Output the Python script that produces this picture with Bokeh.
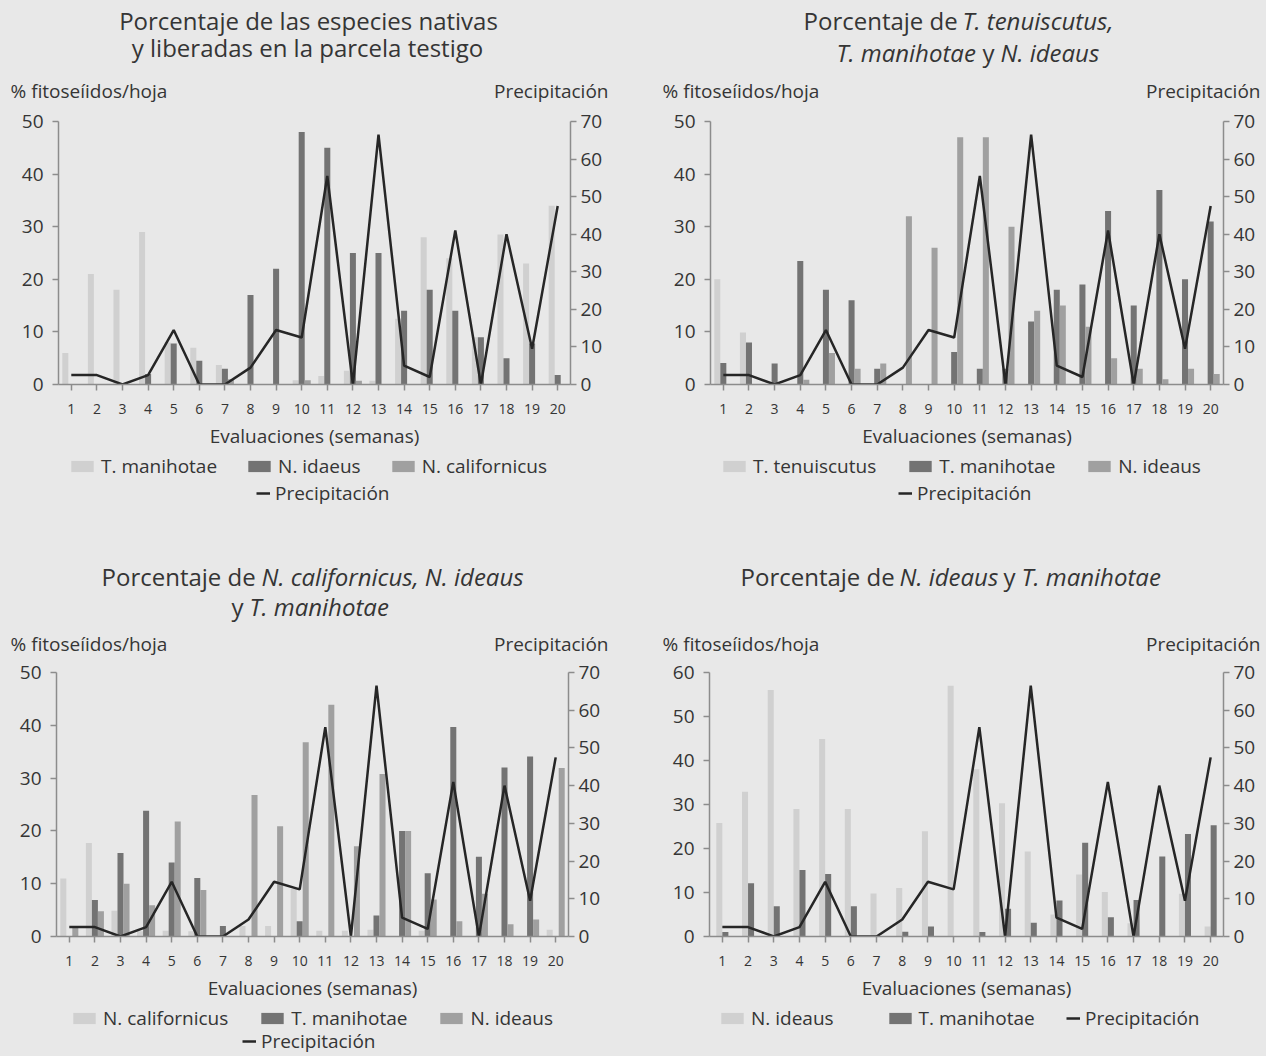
from bokeh.plotting import figure
from bokeh.models import (Range1d, LinearAxis, FixedTicker, Label, Legend,
                          LegendItem, ColumnDataSource)
from bokeh.layouts import column, row
from bokeh.transform import dodge
from bokeh.embed import file_html
from bokeh.resources import INLINE

# ---------------- data ----------------
weeks = list(range(1, 21))
precipitacion = [2.5, 2.5, 0, 2.5, 14.5, 0, 0, 4.5, 14.5, 12.5,
                 55.5, 0, 66.5, 5, 2, 41, 0, 40, 9.5, 47.5]

# Panel 1: especies nativas y liberadas en la parcela testigo
p1_t_manihotae = [6, 21, 18, 29, 8, 7, 3.7, 0, 0, 0.8,
                  1.6, 2.6, 0.7, 12.5, 28, 24, 9, 28.5, 23, 34]
p1_n_idaeus = [0, 0, 0, 2, 7.8, 4.5, 3, 17, 22, 48,
               45, 25, 25, 14, 18, 14, 9, 5, 7.8, 1.8]
p1_n_californicus = [0, 0, 0, 0, 0, 0, 1, 0, 0, 0.8,
                     0, 0.7, 0, 0, 0, 0, 0, 0, 0, 0]

# Panel 2: T. tenuiscutus, T. manihotae y N. ideaus
p2_t_tenuiscutus = [20, 9.9, 0, 0, 0, 0, 0, 0, 0, 0,
                    0, 0, 0, 0, 0, 0, 0, 0, 0, 0]
p2_t_manihotae = [4.1, 8, 4, 23.5, 18, 16, 3, 0, 0, 6.2,
                  3, 3, 12, 18, 19, 33, 15, 37, 20, 31]
p2_n_ideaus = [0, 0, 0, 0.9, 6, 3, 4, 32, 26, 47,
               47, 30, 14, 15, 11, 5, 3, 1, 3, 2]

# Panel 3: N. californicus, N. ideaus y T. manihotae
p3_n_californicus = [11, 17.7, 4.9, 1, 1.1, 1, 0, 2, 2, 9,
                     1.1, 1.1, 1.3, 0, 1.1, 0, 0, 0, 0, 1.3]
p3_t_manihotae = [0, 6.9, 15.8, 23.8, 14, 11.1, 2, 0, 0, 2.9,
                  0, 0, 4, 20, 12, 39.7, 15.1, 32, 34.1, 0]
p3_n_ideaus = [2, 4.8, 10, 5.9, 21.8, 8.8, 0, 26.8, 20.9, 36.8,
               43.9, 17.1, 30.8, 20, 7, 2.9, 8.1, 2.3, 3.2, 31.9]

# Panel 4: N. ideaus y T. manihotae
p4_n_ideaus = [25.8, 32.9, 56, 29, 44.9, 29, 9.8, 11, 23.9, 57,
               38, 30.3, 19.3, 5, 14.1, 10.1, 3, 0, 9.7, 2.3]
p4_t_manihotae = [1, 12.1, 6.9, 15.1, 14.2, 6.9, 0, 1.1, 2.3, 0,
                  1, 6.3, 3.1, 8.2, 21.3, 4.4, 8.3, 18.2, 23.3, 25.3]

# ---------------- style ----------------
FONT = "Open Sans"
BG = "#e8e8e8"
TXT = "#353535"
AX = "#8c8c8c"
C_LIGHT = "#d0d0d0"
C_DARK = "#737373"
C_MED = "#a0a0a0"
C_LINE = "#262626"
BAR_W = 0.235
TS = "24px"
LS = "19px"


def no_align(f):
    try:
        f.frame_align = False
    except Exception:
        pass
    return f


def blank_fig(W, H):
    f = figure(width=W, height=H, x_range=Range1d(0, W), y_range=Range1d(0, H),
               output_backend="svg", toolbar_location=None,
               x_axis_type=None, y_axis_type=None, min_border=0,
               background_fill_color=BG, border_fill_color=BG,
               outline_line_color=None)
    f.grid.visible = False
    return no_align(f)


def style_axis(ax, size, standoff):
    ax.axis_line_color = AX
    ax.axis_line_width = 1.5
    ax.major_tick_line_color = AX
    ax.major_tick_line_width = 1.5
    ax.major_tick_out = 6
    ax.major_tick_in = 0
    ax.minor_tick_line_color = None
    ax.major_label_text_font = FONT
    ax.major_label_text_font_size = size
    ax.major_label_text_color = TXT
    ax.major_label_standoff = standoff


def make_header(W, H, px0, py0, texts):
    h = blank_fig(W, H)
    for (px, py, text, align, style, size) in texts:
        h.add_layout(Label(x=px - px0, y=H - (py - py0), text=text,
                           text_align=align, text_baseline="middle",
                           text_font=FONT, text_font_size=size,
                           text_font_style=style, text_color=TXT))
    return h


def make_footer(W, H, px0, py0, src, colors, names, rows):
    # legend only: the renderers share the chart's data but stay hidden
    f = blank_fig(W, H)
    rs = [f.vbar(x="week", top="s%d" % i, width=1, source=src, fill_color=c,
                 line_color=None, visible=False)
          for i, c in enumerate(colors)]
    lr = f.line(x="week", y="precip", source=src, line_color=C_LINE,
                line_width=2.5, visible=False)
    items = [LegendItem(label=n, renderers=[r]) for n, r in zip(names, rs)]
    items.append(LegendItem(label="Precipitación", renderers=[lr]))
    for (idxs, px, pyc, spacing, gw) in rows:
        lg = Legend(items=[items[k] for k in idxs],
                    location=(px - px0, H - (pyc - py0) - 13),
                    orientation="horizontal", glyph_width=gw, glyph_height=14,
                    label_text_font=FONT, label_text_font_size=LS,
                    label_text_color=TXT, spacing=spacing, padding=0, margin=0,
                    border_line_color=None, background_fill_alpha=0,
                    inactive_fill_alpha=0, label_standoff=5)
        f.add_layout(lg)
    return f


def make_chart(W, H, bl, br, bt, bb, ymax, series, colors, offsets):
    p = figure(width=W, height=H, x_range=Range1d(0.5, 20.5),
               y_range=Range1d(0, ymax), output_backend="svg",
               toolbar_location=None, min_border_left=bl, min_border_right=br,
               min_border_top=bt, min_border_bottom=bb,
               background_fill_color=BG, border_fill_color=BG,
               outline_line_color=None)
    no_align(p)
    p.grid.visible = False
    p.extra_y_ranges = {"precip": Range1d(0, 70)}

    data = {"week": weeks, "precip": precipitacion}
    for i, s in enumerate(series):
        data["s%d" % i] = s
    src = ColumnDataSource(data)

    for i, (c, off) in enumerate(zip(colors, offsets)):
        p.vbar(x=dodge("week", off), top="s%d" % i, width=BAR_W,
               bottom=0, source=src, fill_color=c, line_color=None)
    p.line(x="week", y="precip", y_range_name="precip", source=src,
           line_color=C_LINE, line_width=2.5)

    xa = p.xaxis[0]
    xa.ticker = FixedTicker(ticks=weeks)
    style_axis(xa, "14px", 13)
    xa.axis_label = "Evaluaciones (semanas)"
    xa.axis_label_text_font = FONT
    xa.axis_label_text_font_size = LS
    xa.axis_label_text_font_style = "normal"
    xa.axis_label_text_color = TXT
    xa.axis_label_standoff = 6

    ya = p.yaxis[0]
    ya.ticker = FixedTicker(ticks=list(range(0, ymax + 1, 10)))
    style_axis(ya, "19px", 9)

    ra = LinearAxis(y_range_name="precip",
                    ticker=FixedTicker(ticks=list(range(0, 71, 10))))
    style_axis(ra, "19px", 4)
    p.add_layout(ra, "right")
    return p, src


OFF3 = [-BAR_W, 0, BAR_W]
OFF2 = [-BAR_W / 2, BAR_W / 2]

# ---- panel 1 (x 0..650, y 0..548) ----
h1 = make_header(650, 109, 0, 0, [
    (308, 20, "Porcentaje de las especies nativas", "center", "normal", TS),
    (307, 47, "y liberadas en la parcela testigo", "center", "normal", TS),
    (10, 90, "% fitoseíidos/hoja", "left", "normal", LS),
    (608, 90, "Precipitación", "right", "normal", LS)])
c1, s1 = make_chart(650, 345, 58, 80, 12, 70, 50,
                    [p1_t_manihotae, p1_n_idaeus, p1_n_californicus],
                    [C_LIGHT, C_DARK, C_MED], OFF3)
f1 = make_footer(650, 94, 0, 454, s1, [C_LIGHT, C_DARK, C_MED],
                 ["T. manihotae", "N. idaeus", "N. californicus"],
                 [([0, 1, 2], 68, 466, 28, 28), ([3], 256, 493, 0, 14)])

# ---- panel 2 (x 650..1264) ----
h2 = make_header(614, 109, 650, 0, [
    (803, 20, "Porcentaje de", "left", "normal", TS),
    (962, 20, "T. tenuiscutus,", "left", "italic", TS),
    (836, 52, "T. manihotae", "left", "italic", TS),
    (982, 52, "y", "left", "normal", TS),
    (1000, 52, "N. ideaus", "left", "italic", TS),
    (662, 90, "% fitoseíidos/hoja", "left", "normal", LS),
    (1260, 90, "Precipitación", "right", "normal", LS)])
c2, s2 = make_chart(614, 345, 60, 41, 12, 70, 50,
                    [p2_t_tenuiscutus, p2_t_manihotae, p2_n_ideaus],
                    [C_LIGHT, C_DARK, C_MED], OFF3)
f2 = make_footer(614, 94, 650, 454, s2, [C_LIGHT, C_DARK, C_MED],
                 ["T. tenuiscutus", "T. manihotae", "N. ideaus"],
                 [([0, 1, 2], 720, 466, 30, 28), ([3], 898, 493, 0, 14)])

# ---- panel 3 (x 0..650, y 548..1054) ----
h3 = make_header(650, 112, 0, 548, [
    (101, 576, "Porcentaje de", "left", "normal", TS),
    (261, 576, "N. californicus, N. ideaus", "left", "italic", TS),
    (231, 606, "y", "left", "normal", TS),
    (249, 606, "T. manihotae", "left", "italic", TS),
    (10, 643, "% fitoseíidos/hoja", "left", "normal", LS),
    (608, 643, "Precipitación", "right", "normal", LS)])
c3, s3 = make_chart(650, 344, 56, 82, 12, 68, 50,
                    [p3_n_californicus, p3_t_manihotae, p3_n_ideaus],
                    [C_LIGHT, C_DARK, C_MED], OFF3)
f3 = make_footer(650, 50, 0, 1004, s3, [C_LIGHT, C_DARK, C_MED],
                 ["N. californicus", "T. manihotae", "N. ideaus"],
                 [([0, 1, 2], 70, 1018, 30, 28), ([3], 242, 1041, 0, 14)])

# ---- panel 4 (x 650..1264, y 548..1054) ----
h4 = make_header(614, 112, 650, 548, [
    (740, 576, "Porcentaje de", "left", "normal", TS),
    (899, 576, "N. ideaus", "left", "italic", TS),
    (1003, 576, "y", "left", "normal", TS),
    (1021, 576, "T. manihotae", "left", "italic", TS),
    (662, 643, "% fitoseíidos/hoja", "left", "normal", LS),
    (1260, 643, "Precipitación", "right", "normal", LS)])
c4, s4 = make_chart(614, 344, 59, 41, 12, 68, 60,
                    [p4_n_ideaus, p4_t_manihotae],
                    [C_LIGHT, C_DARK], OFF2)
f4 = make_footer(614, 50, 650, 1004, s4, [C_LIGHT, C_DARK],
                 ["N. ideaus", "T. manihotae"],
                 [([0, 1], 718, 1018, 52, 28), ([2], 1066, 1018, 0, 14)])

layout = column(row(column(h1, c1, f1), column(h2, c2, f2)),
                row(column(h3, c3, f3), column(h4, c4, f4)))
html = file_html(layout, INLINE)
html = html.replace("</head>",
                    "<style>body{background:#e8e8e8 !important;}</style></head>", 1)
open("out.html", "w").write(html)
